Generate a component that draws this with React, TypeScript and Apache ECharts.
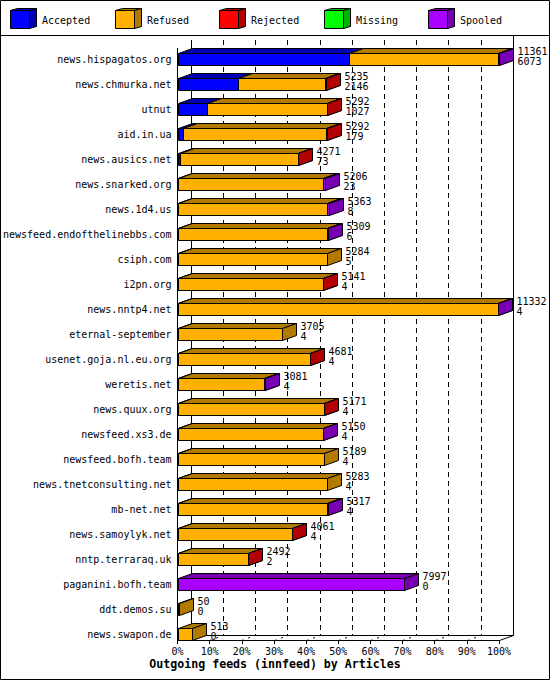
import React, { useEffect, useRef } from 'react';
import * as echarts from 'echarts';

// Outgoing feeds (innfeed) by Articles
const categories = [
  'news.hispagatos.org', 'news.chmurka.net', 'utnut', 'aid.in.ua', 'news.ausics.net',
  'news.snarked.org', 'news.1d4.us', 'newsfeed.endofthelinebbs.com', 'csiph.com', 'i2pn.org',
  'news.nntp4.net', 'eternal-september', 'usenet.goja.nl.eu.org', 'weretis.net', 'news.quux.org',
  'newsfeed.xs3.de', 'newsfeed.bofh.team', 'news.tnetconsulting.net', 'mb-net.net', 'news.samoylyk.net',
  'nntp.terraraq.uk', 'paganini.bofh.team', 'ddt.demos.su', 'news.swapon.de',
];
const offered = [11361, 5235, 5292, 5292, 4271, 5206, 5363, 5309, 5284, 5141, 11332, 3705, 4681, 3081, 5171, 5150, 5189, 5283, 5317, 4061, 2492, 7997, 50, 513];
const accepted = [6073, 2146, 1027, 179, 73, 23, 8, 6, 5, 4, 4, 4, 4, 4, 4, 4, 4, 4, 4, 4, 2, 0, 0, 0];
const refused = [5268, 3077, 4250, 5063, 4183, 5103, 5285, 5263, 5279, 5127, 11318, 3701, 4667, 3067, 5157, 5136, 5185, 5279, 5273, 4047, 2480, 0, 50, 513];
const rejected = [0, 12, 15, 50, 15, 0, 0, 0, 0, 10, 0, 0, 10, 0, 10, 0, 0, 0, 0, 10, 10, 0, 0, 0];
const missing = [0, 0, 0, 0, 0, 0, 0, 0, 0, 0, 0, 0, 0, 0, 0, 0, 0, 0, 0, 0, 0, 0, 0, 0];
const spooled = [20, 0, 0, 0, 0, 80, 70, 40, 0, 0, 10, 0, 0, 10, 0, 10, 0, 0, 40, 0, 0, 7997, 0, 0];

const seriesNames = ['Accepted', 'Refused', 'Rejected', 'Missing', 'Spooled'];
const segments = [accepted, refused, rejected, missing, spooled];
const frontColors = ['#0000ff', '#ffb000', '#ff0000', '#00ff00', '#aa00ff'];
const sideColors = ['#0000b2', '#b27b00', '#b20000', '#00b200', '#7700b2'];

const MONO = '"DejaVu Sans Mono", monospace';
const LEFT = 177;
const WIDTH = 322;
const DX = 14;
const DY = 5;
const HALF = 6;
const FLOOR = 640;

const snap = (v: number) => Math.round(v) + 0.5;

const App = () => {
  const chartRef = useRef<HTMLDivElement>(null);

  useEffect(() => {
    document.body.style.margin = '0';
    const chart = echarts.init(chartRef.current, null, { renderer: 'svg' });

    const totals = categories.map((_, i) => segments.reduce((s, arr) => s + arr[i], 0));
    const maxTotal = Math.max(...totals);

    const segSeries = segments.map((arr, k) => {
      const data: number[][] = [];
      arr.forEach((v, i) => {
        if (v <= 0) return;
        let start = 0;
        for (let j = 0; j < k; j++) start += segments[j][i];
        data.push([start, start + v, i]);
      });
      return {
        name: seriesNames[k],
        type: 'custom',
        xAxisIndex: 0,
        yAxisIndex: 0,
        encode: { x: [0, 1], y: 2 },
        data,
        renderItem: (params: any, api: any) => {
          const a = api.coord([api.value(0), api.value(2)]);
          const b = api.coord([api.value(1), api.value(2)]);
          const x0 = snap(a[0]);
          const x1 = snap(b[0]);
          const yT = snap(a[1] - HALF);
          const yB = snap(a[1] + HALF);
          const st = (fill: string) => ({ fill, stroke: '#000', lineWidth: 1 });
          return {
            type: 'group',
            children: [
              { type: 'rect', shape: { x: x0, y: yT, width: x1 - x0, height: yB - yT }, style: st(frontColors[k]) },
              { type: 'polygon', shape: { points: [[x0, yT], [x0 + DX, yT - DY], [x1 + DX, yT - DY], [x1, yT]] }, style: st(sideColors[k]) },
              { type: 'polygon', shape: { points: [[x1, yT], [x1 + DX, yT - DY], [x1 + DX, yB - DY], [x1, yB]] }, style: st(sideColors[k]) },
            ],
          };
        },
      };
    });

    const labelSeries = {
      name: 'labels',
      type: 'custom',
      xAxisIndex: 0,
      yAxisIndex: 0,
      encode: { x: 0, y: 1 },
      data: categories.map((_, i) => [totals[i], i, offered[i], accepted[i]]),
      renderItem: (params: any, api: any) => {
        const p = api.coord([api.value(0), api.value(1)]);
        return {
          type: 'text',
          x: snap(p[0]) + DX + 4,
          y: p[1] - 3,
          style: {
            text: `${api.value(2)}\n${api.value(3)}`,
            fill: '#000',
            fontFamily: MONO,
            fontSize: 10,
            lineHeight: 10,
            align: 'left',
            verticalAlign: 'middle',
          },
        };
      },
    };

    const line = (x1: number, y1: number, x2: number, y2: number, dash?: number[]) => ({
      type: 'line',
      shape: { x1, y1, x2, y2 },
      style: { stroke: '#000', lineWidth: 1, lineDash: dash },
    });

    const frame: any[] = [
      { type: 'rect', shape: { x: 0.5, y: 0.5, width: 549, height: 679 }, style: { fill: 'none', stroke: '#000', lineWidth: 1 } },
      line(0, 35.5, 550, 35.5),
      line(LEFT + 0.5, 48, LEFT + 0.5, FLOOR + 0.5),
      line(LEFT + DX + 0.5, 40, LEFT + DX + 0.5, FLOOR - DY + 0.5),
      line(LEFT + WIDTH + DX + 0.5, 35, LEFT + WIDTH + DX + 0.5, FLOOR - DY + 0.5),
      line(LEFT + DX + 0.5, FLOOR - DY + 0.5, LEFT + WIDTH + DX + 0.5, FLOOR - DY + 0.5),
      line(LEFT + 0.5, FLOOR + 0.5, LEFT + DX + 0.5, FLOOR - DY + 0.5),
      line(LEFT + WIDTH + 0.5, FLOOR + 0.5, LEFT + WIDTH + DX + 0.5, FLOOR - DY + 0.5),
    ];
    for (let k = 1; k < 10; k++) {
      const x = snap(LEFT + (WIDTH * k) / 10);
      frame.push(line(x, FLOOR + 0.5, x + DX, FLOOR - DY + 0.5, [2, 5]));
    }

    const legendItems = seriesNames.map((name, i) => {
      const bx = 10 + Math.round(i * 104.5);
      const st = (fill: string) => ({ fill, stroke: '#000', lineWidth: 1 });
      return {
        type: 'group',
        children: [
          { type: 'rect', shape: { x: bx + 0.5, y: 10.5, width: 19, height: 18 }, style: st(frontColors[i]) },
          { type: 'polygon', shape: { points: [[bx + 0.5, 10.5], [bx + 7.5, 8.5], [bx + 26.5, 8.5], [bx + 19.5, 10.5]] }, style: st(sideColors[i]) },
          { type: 'polygon', shape: { points: [[bx + 19.5, 10.5], [bx + 26.5, 8.5], [bx + 26.5, 26.5], [bx + 19.5, 28.5]] }, style: st(sideColors[i]) },
          {
            type: 'text',
            x: bx + 32,
            y: 20,
            style: { text: name, fill: '#000', fontFamily: MONO, fontSize: 10, align: 'left', verticalAlign: 'middle' },
          },
        ],
      };
    });

    const option = {
      animation: false,
      backgroundColor: '#fff',
      title: {
        text: 'Outgoing feeds (innfeed) by Articles',
        left: 'center',
        top: 658,
        padding: 0,
        textStyle: { fontFamily: MONO, fontSize: 11.6, fontWeight: 'bold', color: '#000' },
      },
      grid: [
        { left: LEFT, top: 59, width: WIDTH, height: 575 },
        { left: LEFT + DX, top: 40, width: WIDTH, height: FLOOR - DY - 40 },
      ],
      xAxis: [
        {
          gridIndex: 0,
          type: 'value',
          min: 0,
          max: maxTotal,
          interval: maxTotal / 10,
          position: 'bottom',
          offset: FLOOR - 634,
          axisLine: { show: true, lineStyle: { color: '#000', width: 1 } },
          axisTick: { show: true, length: 4, lineStyle: { color: '#000' } },
          axisLabel: {
            color: '#000',
            fontFamily: MONO,
            fontSize: 10,
            margin: 6,
            formatter: (v: number) => `${Math.round((v / maxTotal) * 100)}%`,
          },
          splitLine: { show: false },
        },
        {
          gridIndex: 1,
          type: 'value',
          min: 0,
          max: maxTotal,
          interval: maxTotal / 10,
          axisLine: { show: false },
          axisTick: { show: false },
          axisLabel: { show: false },
          splitLine: { show: true, lineStyle: { color: '#000', width: 1, type: [5, 4] } },
        },
      ],
      yAxis: [
        {
          gridIndex: 0,
          type: 'category',
          data: categories,
          inverse: true,
          boundaryGap: false,
          axisLine: { show: false },
          axisTick: { show: false },
          axisLabel: { color: '#000', fontFamily: MONO, fontSize: 10, margin: 6 },
          splitLine: { show: false },
        },
        { gridIndex: 1, type: 'value', show: false, min: 0, max: 1 },
      ],
      graphic: { z: 1, elements: [...frame, ...legendItems] },
      series: [...segSeries, labelSeries],
    };

    chart.setOption(option);

    return () => {
      chart.dispose();
    };
  }, []);

  return <div ref={chartRef} style={{ width: '550px', height: '680px' }} />;
};

export default App;
